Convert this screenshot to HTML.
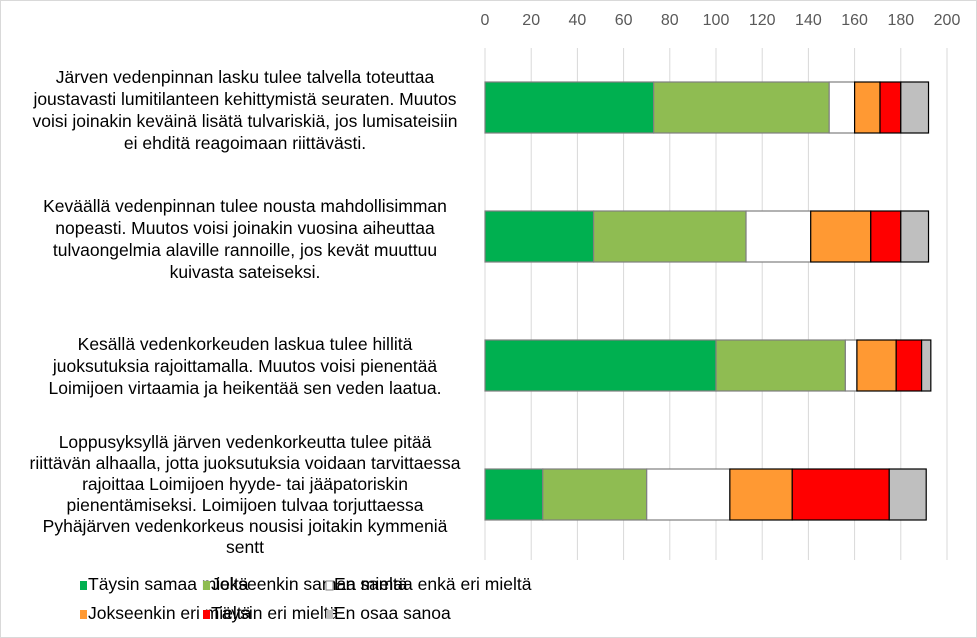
<!DOCTYPE html>
<html><head><meta charset="utf-8"><style>
html,body{margin:0;padding:0;background:#fff}
svg{display:block;font-family:"Liberation Sans",Arial,sans-serif}
</style></head><body>
<svg id="chart" width="977" height="638" viewBox="0 0 977 638">
<rect x="0.5" y="0.5" width="976" height="637" fill="#fff" stroke="#d9d9d9"/>
<g id="grid"></g>
<g id="ticks"></g>
<g id="bars"></g>
<g id="cats"></g>
<g id="legend"></g>
</svg>
<script>
const categories = [
  ["Järven vedenpinnan lasku tulee talvella toteuttaa","joustavasti lumitilanteen kehittymistä seuraten. Muutos","voisi joinakin keväinä lisätä tulvariskiä, jos lumisateisiin","ei ehditä reagoimaan riittävästi."],
  ["Keväällä vedenpinnan tulee nousta mahdollisimman","nopeasti. Muutos voisi joinakin vuosina aiheuttaa","tulvaongelmia alaville rannoille, jos kevät muuttuu","kuivasta sateiseksi."],
  ["Kesällä vedenkorkeuden laskua tulee hillitä","juoksutuksia rajoittamalla. Muutos voisi pienentää","Loimijoen virtaamia ja heikentää sen veden laatua."],
  ["Loppusyksyllä järven vedenkorkeutta tulee pitää","riittävän alhaalla, jotta juoksutuksia voidaan tarvittaessa","rajoittaa Loimijoen hyyde- tai jääpatoriskin","pienentämiseksi. Loimijoen tulvaa torjuttaessa","Pyhäjärven vedenkorkeus nousisi joitakin kymmeniä","sentt"]
];
const seriesNames = ["Täysin samaa mieltä","Jokseenkin samaa mieltä","En samaa enkä eri mieltä","Jokseenkin eri mieltä","Täysin eri mieltä","En osaa sanoa"];
const taysinSamaa = [73,47,100,25];
const jokseenkinSamaa = [76,66,56,45];
const enSamaaEnkaEri = [11,28,5,36];
const jokseenkinEri = [11,26,17,27];
const taysinEri = [9,13,11,42];
const enOsaa = [12,12,4,16];
const tickLabels = [0,20,40,60,80,100,120,140,160,180,200];

const colors = ["#00b050","#8fbc52","#ffffff","#ff9933","#ff0000","#bfbfbf"];
const strokes = ["#7f7f7f","#7f7f7f","#7f7f7f","#000","#000","#000"];
const series = [taysinSamaa,jokseenkinSamaa,enSamaaEnkaEri,jokseenkinEri,taysinEri,enOsaa];
const NS="http://www.w3.org/2000/svg";
const x0=485, x1=947, vmax=200, plotTop=43, band=129, barH=51;
const xs=v=>x0+(v/vmax)*(x1-x0);
const yc=i=>plotTop+band*i+band/2;
function mk(t,a,p){const e=document.createElementNS(NS,t);for(const k in a)e.setAttribute(k,a[k]);p.appendChild(e);return e;}
const grid=document.getElementById('grid'), ticks=document.getElementById('ticks');
tickLabels.forEach(t=>{
  const l=mk('line',{x1:xs(t),x2:xs(t),y1:48,y2:560,stroke:'#d9d9d9','stroke-width':1},grid);
  
  
  const tx=mk('text',{x:xs(t),y:25,'text-anchor':'middle','font-size':16,fill:'#595959'},ticks);
  tx.textContent=t;
  
  
});
const bars=document.getElementById('bars');
categories.forEach((c,i)=>{
  let acc=0;
  series.forEach((s,j)=>{
    const r=mk('rect',{x:xs(acc),y:yc(i)-barH/2,width:xs(acc+s[i])-xs(acc),height:barH,fill:colors[j],stroke:strokes[j],'stroke-width':1.2},bars);
    
    
    acc+=s[i];
  });
});
const cats=document.getElementById('cats');
const firstBase=[83,212,350,448], pitch=[22,22,22,21];
categories.forEach((lines,i)=>{
  const t=mk('text',{'font-size':17.5,fill:'#000','text-anchor':'middle'},cats);
  
  
  lines.forEach((ln,k)=>{const s=mk('tspan',{x:245,y:firstBase[i]+pitch[i]*k},t);s.textContent=ln;});
});
const leg=document.getElementById('legend');
const lx=[80,203,326], ly=[588,617];
seriesNames.forEach((n,j)=>{
  const x=lx[j%3], y=ly[Math.floor(j/3)];
  const g=mk('g',{},leg);
  
  
  mk('rect',{x:x,y:y-7,width:7,height:9,fill:colors[j],stroke:j==2?'#7f7f7f':'none','stroke-width':1},g);
  const t=mk('text',{x:x+8,y:y+2,'font-size':17.5,fill:'#000'},g);
  t.textContent=n;
});
</script>
</body></html>
